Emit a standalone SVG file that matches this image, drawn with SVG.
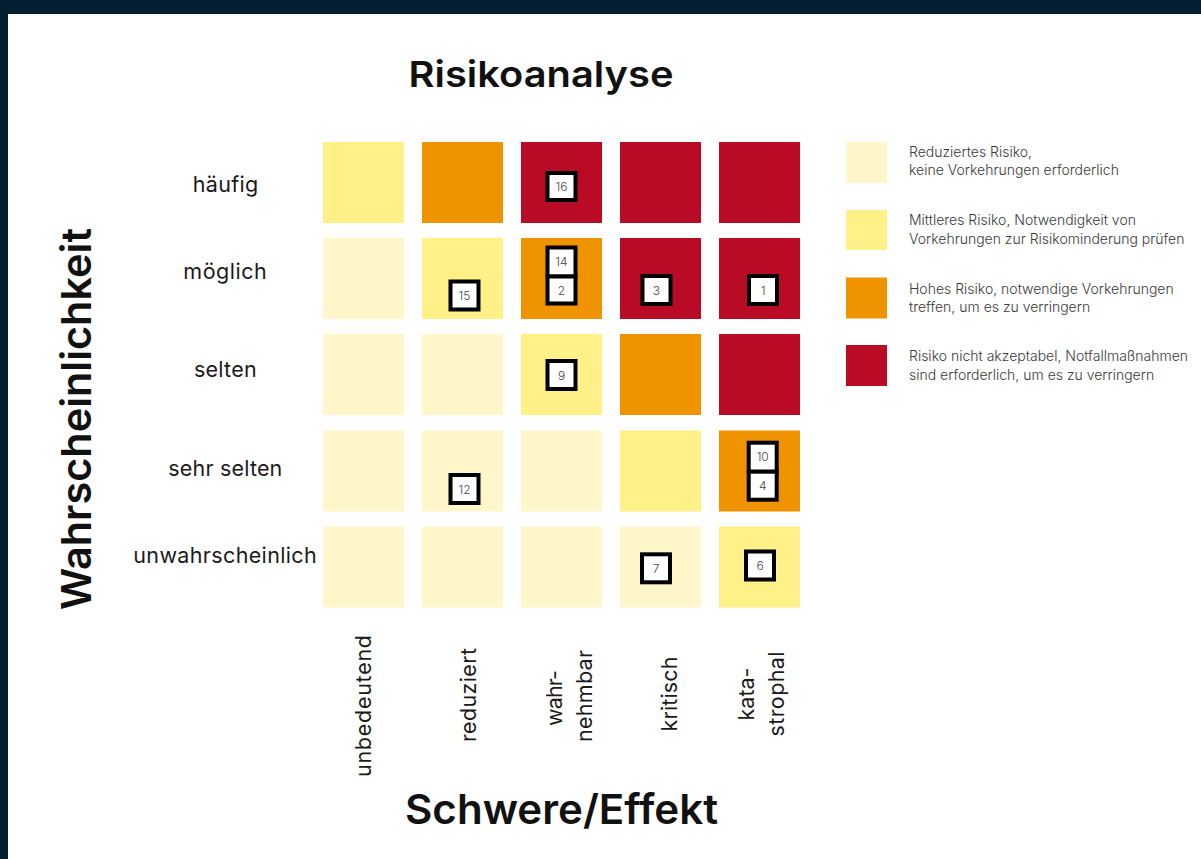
<svg xmlns="http://www.w3.org/2000/svg" width="1201" height="859" viewBox="0 0 1201 859">
<style>
.t{font-family:Inter,"Liberation Sans",Arial,sans-serif;fill:#111}
.h1{font-size:36px;font-weight:600;text-anchor:middle}
.h2{font-size:41px;font-weight:600;text-anchor:middle}
.row{font-size:21.5px;text-anchor:middle;fill:#1a1a1a}
.col{font-size:21.5px;text-anchor:middle;fill:#1a1a1a}
.leg{font-size:14px;font-weight:300;fill:#3a3a3a}
.num{font-size:12px;text-anchor:middle;fill:#444;font-family:Inter,"Liberation Sans",Arial,sans-serif;font-weight:300}
.p{fill:#fff7c9}.y{fill:#fff187}.o{fill:#ef9300}.r{fill:#b90b26}
.b{fill:#fff;stroke:#000;stroke-width:4}
</style>
<rect x="0" y="0" width="1201" height="859" fill="#041e32"/>
<rect x="8" y="14" width="1193" height="845" fill="#fff"/>
<text class="t h1" x="541" y="87" textLength="265" lengthAdjust="spacingAndGlyphs">Risikoanalyse</text>
<text class="t h2" x="561.5" y="824" textLength="313" lengthAdjust="spacingAndGlyphs">Schwere/Effekt</text>
<text class="t h2" transform="translate(91,419) rotate(-90)" textLength="382" lengthAdjust="spacingAndGlyphs">Wahrscheinlichkeit</text>
<g id="rows">
<text class="t row" x="225.5" y="192" textLength="65.6">häufig</text>
<text class="t row" x="225" y="279" textLength="83.4">möglich</text>
<text class="t row" x="225.3" y="376.5" textLength="62.7">selten</text>
<text class="t row" x="225.3" y="476" textLength="114">sehr selten</text>
<text class="t row" x="225" y="562.5" textLength="183.4">unwahrscheinlich</text>
</g>
<g id="cols">
<text class="t col" transform="translate(371,706) rotate(-90)" textLength="142">unbedeutend</text>
<text class="t col" transform="translate(475.5,695) rotate(-90)" textLength="94">reduziert</text>
<text class="t col" transform="translate(562,698) rotate(-90)" textLength="56">wahr-</text>
<text class="t col" transform="translate(592,696) rotate(-90)" textLength="92">nehmbar</text>
<text class="t col" transform="translate(676.5,694) rotate(-90)" textLength="75">kritisch</text>
<text class="t col" transform="translate(754,694) rotate(-90)" textLength="53">kata-</text>
<text class="t col" transform="translate(784,694) rotate(-90)" textLength="85">strophal</text>
</g>
<g id="grid">
<rect class="y" x="323" y="142" width="81" height="81"/>
<rect class="o" x="422" y="142" width="81" height="81"/>
<rect class="r" x="521" y="142" width="81" height="81"/>
<rect class="r" x="620" y="142" width="81" height="81"/>
<rect class="r" x="719" y="142" width="81" height="81"/>
<rect class="p" x="323" y="238" width="81" height="81"/>
<rect class="y" x="422" y="238" width="81" height="81"/>
<rect class="o" x="521" y="238" width="81" height="81"/>
<rect class="r" x="620" y="238" width="81" height="81"/>
<rect class="r" x="719" y="238" width="81" height="81"/>
<rect class="p" x="323" y="334" width="81" height="81"/>
<rect class="p" x="422" y="334" width="81" height="81"/>
<rect class="y" x="521" y="334" width="81" height="81"/>
<rect class="o" x="620" y="334" width="81" height="81"/>
<rect class="r" x="719" y="334" width="81" height="81"/>
<rect class="p" x="323" y="430.5" width="81" height="81"/>
<rect class="p" x="422" y="430.5" width="81" height="81"/>
<rect class="p" x="521" y="430.5" width="81" height="81"/>
<rect class="y" x="620" y="430.5" width="81" height="81"/>
<rect class="o" x="719" y="430.5" width="81" height="81"/>
<rect class="p" x="323" y="526.5" width="81" height="81"/>
<rect class="p" x="422" y="526.5" width="81" height="81"/>
<rect class="p" x="521" y="526.5" width="81" height="81"/>
<rect class="p" x="620" y="526.5" width="81" height="81"/>
<rect class="y" x="719" y="526.5" width="81" height="81"/>
</g>
<g id="connectors"></g>
<g id="n16"><rect class="b" x="547.5" y="173" width="28" height="27"/><text class="num" x="561.5" y="191">16</text></g>
<g id="n14"><rect class="b" x="547.5" y="247.5" width="28" height="29"/><text class="num" x="561.5" y="266">14</text></g>
<g id="n2"><rect class="b" x="547.5" y="276.5" width="28" height="27"/><text class="num" x="561.5" y="294.5">2</text></g>
<g id="n15"><rect class="b" x="450.5" y="281.5" width="28" height="28"/><text class="num" x="464.5" y="300">15</text></g>
<g id="n3"><rect class="b" x="642.5" y="276" width="28" height="28"/><text class="num" x="656.5" y="294.5">3</text></g>
<g id="n1"><rect class="b" x="749" y="276" width="28" height="28"/><text class="num" x="763" y="294.5">1</text></g>
<g id="n9"><rect class="b" x="547.5" y="361" width="28" height="28"/><text class="num" x="561.5" y="379.5">9</text></g>
<g id="n12"><rect class="b" x="450.5" y="475" width="28" height="28"/><text class="num" x="464.5" y="493.5">12</text></g>
<g id="n10"><rect class="b" x="748.7" y="442.7" width="28" height="29"/><text class="num" x="762.7" y="461">10</text></g>
<g id="n4"><rect class="b" x="748.7" y="471.7" width="28" height="28"/><text class="num" x="762.7" y="490">4</text></g>
<g id="n7"><rect class="b" x="642" y="554.3" width="28" height="28"/><text class="num" x="656" y="573">7</text></g>
<g id="n6"><rect class="b" x="746" y="551.5" width="28" height="28"/><text class="num" x="760" y="570">6</text></g>
<g id="legend">
<rect class="p" x="846" y="142" width="41" height="41"/>
<rect class="y" x="846" y="210" width="41" height="40"/>
<rect class="o" x="846" y="277.5" width="41" height="41"/>
<rect class="r" x="846" y="345" width="41" height="41"/>
<text class="t leg" x="909" y="157">Reduziertes Risiko,</text>
<text class="t leg" x="909" y="175">keine Vorkehrungen erforderlich</text>
<text class="t leg" x="909" y="225">Mittleres Risiko, Notwendigkeit von</text>
<text class="t leg" x="909" y="243.5">Vorkehrungen zur Risikominderung prüfen</text>
<text class="t leg" x="909" y="293.5">Hohes Risiko, notwendige Vorkehrungen</text>
<text class="t leg" x="909" y="311.5">treffen, um es zu verringern</text>
<text class="t leg" x="909" y="361">Risiko nicht akzeptabel, Notfallmaßnahmen</text>
<text class="t leg" x="909" y="379.5">sind erforderlich, um es zu verringern</text>
</g>
</svg>
